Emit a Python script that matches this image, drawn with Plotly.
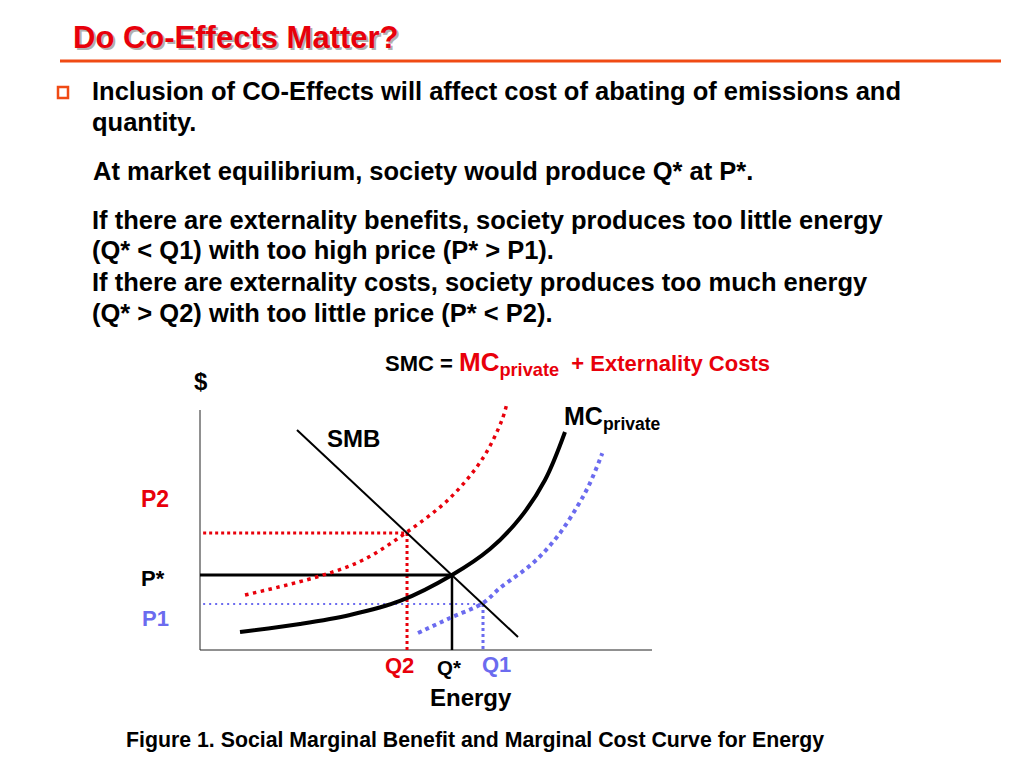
import plotly.graph_objects as go

# ---------------- data (economic units: Energy quantity, $ price) ----------------
mc_private_q = [0.885, 2.212, 3.319, 4.425, 5.575, 6.416, 7.080, 7.633, 8.075]
mc_private_p = [0.75, 1.083, 1.458, 2.042, 3.125, 4.208, 5.5, 7.083, 9.083]

smc_cost_q = [0.996, 2.655, 3.606, 4.58, 5.531, 6.261, 6.681, 6.792]
smc_cost_p = [2.292, 3.083, 3.75, 4.917, 6.333, 8.0, 9.583, 10.29]

smc_benefit_q = [4.823, 5.531, 6.261, 6.637, 7.367, 7.898, 8.341, 8.628, 8.9]
smc_benefit_p = [0.708, 1.333, 1.958, 2.583, 3.625, 4.708, 5.958, 6.958, 8.2]

smb_q = [2.146, 7.035]
smb_p = [9.167, 0.542]

Q_STAR, P_STAR = 5.575, 3.125
Q1, P1 = 6.261, 1.917
Q2, P2 = 4.58, 4.875
AXIS_MAX = 10.0

title_text = "Do Co-Effects Matter?"
body_lines = [
    "Inclusion of CO-Effects will affect cost of abating of emissions and",
    "quantity.",
    "At market equilibrium, society would produce Q* at P*.",
    "If there are externality benefits, society produces too little energy",
    "(Q* < Q1) with too high price (P* > P1).",
    "If there are externality costs, society produces too much energy",
    "(Q* > Q2) with too little price (P* < P2).",
]
caption = "Figure 1. Social Marginal Benefit and Marginal Cost Curve for Energy"

RED = "#e8000b"
BLUE = "#6b6bef"
BLACK = "#000000"
FONT = "Liberation Sans, Arial, sans-serif"

OFF = 8                      # page body margin
W, H = 1024 - 2 * OFF, 768 - 2 * OFF
# pixel geometry of the diagram axes (page pixels)
X0PX, XSCALE = 200.0, 45.2   # px of Q=0, px per unit
Y0PX, YSCALE = 650.0, 24.0   # px of P=0, px per unit

fig = go.Figure()

def line(xs, ys, color, width, dash="solid", shape="linear"):
    fig.add_trace(go.Scatter(x=xs, y=ys, mode="lines",
                             line=dict(color=color, width=width, dash=dash, shape=shape, smoothing=1.0),
                             hoverinfo="skip", showlegend=False))

# axes
line([0, 0], [0, AXIS_MAX], "#222222", 1)
line([0, AXIS_MAX], [0, 0], "#222222", 1)

# guide lines
line([0.07, Q2], [P2, P2], RED, 3, "3px,3px")
line([Q2, Q2], [P2, 0], RED, 3, "3px,3px")
line([0.07, Q1], [P1, P1], BLUE, 2, "2px,4px")
line([Q1, Q1], [P1, 0], BLUE, 3, "3px,3px")
line([0, Q_STAR], [P_STAR, P_STAR], BLACK, 3)
line([Q_STAR, Q_STAR], [P_STAR, 0], BLACK, 2.5)

# curves
line(smc_cost_q, smc_cost_p, RED, 3.5, "3.5px,4.5px", "spline")
line(smc_benefit_q, smc_benefit_p, BLUE, 4, "4px,4px", "spline")
line(smb_q, smb_p, BLACK, 2)
line(mc_private_q, mc_private_p, BLACK, 4, "solid", "spline")

ann = []
def text(px, py, s, size, color=BLACK, anchor="left", bold=True):
    if anchor == "left":
        px -= 2.5
    ann.append(dict(x=(px - OFF) / W, y=1 - (py - OFF) / H, xref="paper", yref="paper",
                    text=("<b>%s</b>" % s) if bold else s, showarrow=False,
                    xanchor=anchor, yanchor="middle",
                    font=dict(family=FONT, size=size, color=color)))

# title with shadow
text(75, 40, title_text, 31, "#b0b0b0")
text(73, 38, title_text, 31, RED)

# body text
body_y = [91, 122, 171, 220, 250, 282, 313]
for i, (s, y) in enumerate(zip(body_lines, body_y)):
    text(93 if i == 2 else 92, y, s, 25.5)

# bullet square and title rule
fig.add_shape(type="rect", xref="paper", yref="paper",
              x0=(58 - OFF) / W, x1=(68 - OFF) / W, y0=1 - (98 - OFF) / H, y1=1 - (87 - OFF) / H,
              line=dict(color="#f04a14", width=2.5), fillcolor="white")
fig.add_shape(type="line", xref="paper", yref="paper",
              x0=(60 - OFF) / W, x1=(1001 - OFF) / W, y0=1 - (61 - OFF) / H, y1=1 - (61 - OFF) / H,
              line=dict(color="#f04a14", width=3))

# diagram labels
text(385, 364, "SMC = <span style='color:%s;font-size:26px'>MC<sub>private</sub></span>"
     "<span style='color:%s'>  + Externality Costs</span>" % (RED, RED), 22)
text(194, 381, "$", 24)
text(327, 439, "SMB", 24)
text(564, 418, "MC<sub>private</sub>", 25)
text(141, 499, "P2", 23, RED)
text(141, 578, "P*", 22)
text(142, 618, "P1", 22, BLUE)
text(399, 665, "Q2", 22, RED, "center")
text(449, 667, "Q*", 20.5, BLACK, "center")
text(496, 664, "Q1", 22, BLUE, "center")
text(471, 697, "Energy", 24, BLACK, "center")
text(475, 740, caption, 21.3, BLACK, "center")

fig.update_layout(
    width=W, height=H, margin=dict(l=0, r=0, t=0, b=0),
    paper_bgcolor="white", plot_bgcolor="white",
    xaxis=dict(range=[(OFF - X0PX) / XSCALE, (OFF + W - X0PX) / XSCALE], visible=False, fixedrange=True),
    yaxis=dict(range=[(Y0PX - OFF - H) / YSCALE, (Y0PX - OFF) / YSCALE], visible=False, fixedrange=True),
    annotations=ann, showlegend=False,
)

fig.write_html("out.html")
